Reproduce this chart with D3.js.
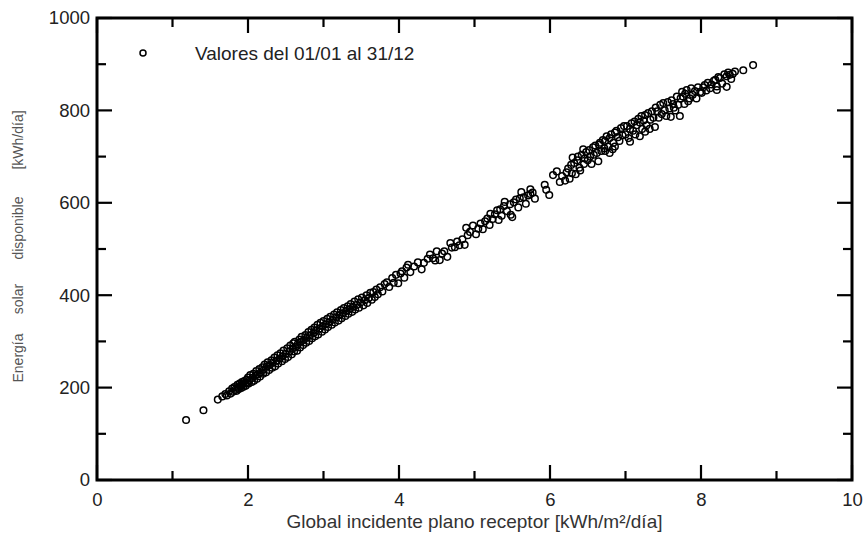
<!DOCTYPE html>
<html>
<head>
<meta charset="utf-8">
<script src="https://cdn.jsdelivr.net/npm/d3@7"></script>
<style>
    body { margin: 0; background: #fff; }
    #chart-area { width: 866px; height: 540px; }
    text { font-family: "Liberation Sans", Arial, sans-serif; }
</style>
</head>
<body>
<div id="chart-area"></div>
<script>

// x: Global incidente plano receptor [kWh/m2/dia], y: Energia solar disponible [kWh/dia]
let dias = [
    [1.18,130],[1.41,151],[1.60,174],[1.66,181],[1.70,186],[1.72,183],[1.75,192],[1.77,187],[1.79,198],[1.80,191],
    [1.82,201],[1.83,195],[1.85,193],[1.86,206],[1.87,200],[1.88,197],[1.89,209],[1.90,204],[1.91,199],[1.92,212],
    [1.93,207],[1.94,202],[1.95,214],[1.96,209],[1.97,204],[1.98,217],[1.99,210],
    [2.00,222],[2.01,209],[2.02,216],[2.03,227],[2.05,212],[2.06,221],[2.07,230],[2.08,215],[2.10,226],[2.11,236],
    [2.12,219],[2.13,229],[2.15,240],[2.16,224],[2.17,233],[2.19,244],[2.20,230],[2.21,239],[2.22,250],[2.24,233],
    [2.25,246],[2.26,255],[2.28,238],[2.29,249],[2.31,259],[2.32,243],[2.33,254],[2.35,265],[2.36,246],[2.38,258],
    [2.39,270],[2.40,252],[2.42,263],[2.43,274],[2.45,257],[2.46,268],[2.47,280],[2.49,262],[2.50,273],[2.52,285],
    [2.53,266],[2.55,278],[2.56,291],[2.58,272],[2.59,284],[2.60,296],[2.61,278],[2.62,299],[2.63,288],[2.65,280],
    [2.66,294],[2.68,304],[2.69,287],[2.70,299],[2.71,310],[2.73,292],[2.74,303],[2.76,314],[2.77,297],[2.78,308],
    [2.80,320],[2.81,301],[2.82,313],[2.84,325],[2.85,307],[2.87,318],[2.88,330],[2.89,311],[2.90,324],[2.92,336],
    [2.93,315],[2.95,328],[2.96,340],[2.98,321],[2.99,333],
    [3.00,344],[3.02,326],[3.03,337],[3.05,349],[3.06,331],[3.08,342],[3.09,353],[3.11,336],[3.12,347],[3.14,358],
    [3.15,341],[3.17,352],[3.18,363],[3.20,345],[3.21,357],[3.23,368],[3.24,350],[3.26,361],[3.27,372],[3.29,355],
    [3.30,366],[3.32,376],[3.33,360],[3.35,370],[3.36,381],[3.38,364],[3.39,375],[3.41,386],[3.42,369],[3.44,379],
    [3.46,391],[3.47,373],[3.49,384],[3.51,395],[3.53,378],[3.55,389],[3.57,400],[3.58,383],[3.60,394],[3.62,405],
    [3.64,390],[3.66,407],[3.68,396],[3.70,412],[3.72,402],[3.75,417],[3.78,408],[3.81,424],[3.84,428],[3.87,418],
    [3.91,437],[3.93,427],[3.96,444],[3.99,426],
    [4.02,447],[4.04,452],[4.07,438],[4.10,460],[4.12,466],[4.15,450],[4.20,462],[4.25,471],[4.30,456],[4.33,470],
    [4.38,479],[4.41,488],[4.45,480],[4.48,475],[4.50,495],[4.54,476],[4.57,490],[4.60,495],[4.64,483],[4.68,513],
    [4.70,503],[4.74,504],[4.77,516],[4.80,508],[4.84,521],[4.87,509],[4.89,546],[4.91,530],[4.94,537],[4.98,551],
    [5.02,532],[5.05,544],[5.08,555],[5.11,543],[5.14,560],[5.17,566],[5.20,552],[5.21,576],[5.24,565],[5.27,575],
    [5.30,584],[5.32,563],[5.34,586],[5.36,572],[5.39,593],[5.40,602],[5.43,582],[5.47,597],[5.48,574],[5.50,569],
    [5.52,601],[5.55,607],[5.58,590],[5.60,610],[5.62,623],[5.65,612],[5.68,598],[5.71,616],[5.74,619],[5.74,629],
    [5.77,622],[5.80,609],[5.93,639],[5.95,628],[5.99,617],
    [6.04,660],[6.09,668],[6.13,645],[6.16,658],[6.20,648],[6.22,666],[6.24,674],[6.26,652],[6.28,682],[6.29,664],
    [6.30,698],[6.32,686],[6.34,662],[6.36,692],[6.37,700],[6.39,676],[6.40,670],[6.42,704],[6.44,716],[6.45,684],
    [6.46,696],[6.48,710],[6.50,692],[6.52,714],[6.53,700],[6.55,684],[6.57,720],[6.58,704],[6.60,724],[6.62,708],
    [6.64,690],[6.65,726],[6.66,730],[6.68,712],[6.70,736],[6.72,718],[6.73,712],[6.73,734],[6.75,744],[6.77,722],
    [6.79,740],[6.79,708],[6.81,748],[6.83,716],[6.84,730],[6.86,752],[6.86,722],[6.88,756],[6.90,742],[6.92,734],
    [6.94,762],[6.96,746],[6.98,766],
    [7.00,748],[7.02,766],[7.04,740],[7.06,760],[7.06,732],[7.08,772],[7.10,756],[7.12,776],[7.13,748],[7.15,768],
    [7.17,782],[7.19,774],[7.19,744],[7.21,788],[7.22,760],[7.24,778],[7.26,754],[7.26,790],[7.28,768],[7.30,794],
    [7.32,760],[7.33,780],[7.35,798],[7.37,784],[7.39,764],[7.40,806],[7.42,798],[7.44,784],[7.46,812],[7.48,792],
    [7.50,816],[7.52,800],[7.54,788],[7.56,818],[7.58,804],[7.60,786],[7.61,822],[7.63,814],[7.64,806],[7.66,800],
    [7.68,830],[7.70,812],[7.72,788],[7.73,826],[7.75,840],[7.76,830],[7.78,814],[7.79,836],[7.81,844],[7.83,820],
    [7.85,826],[7.87,848],[7.89,834],[7.92,842],[7.94,826],[7.96,850],[7.99,840],
    [8.01,838],[8.03,850],[8.05,855],[8.07,843],[8.09,860],[8.12,848],[8.14,856],[8.17,864],[8.19,866],[8.21,844],
    [8.21,852],[8.23,872],[8.25,870],[8.28,858],[8.31,878],[8.34,874],[8.34,851],[8.36,882],[8.38,877],[8.40,868],
    [8.42,879],[8.45,884],[8.56,887],[8.69,898]
];

// axis ticks
let xMajorTicks = [0, 2, 4, 6, 8, 10];
let xMinorTicks = [1, 3, 5, 7, 9];
let yMajorTicks = [0, 200, 400, 600, 800, 1000];
let yMinorTicks = [100, 300, 500, 700, 900];

// texts
let legendLabel = 'Valores del 01/01 al 31/12';
let xTitle = 'Global incidente plano receptor [kWh/m²/día]';
let yTitleWords = ['Energía', 'solar', 'disponible', '[kWh/día]'];
let yTitlePos = [358, 299, 228, 140];


class ScatterVis {

    constructor(parentElement, data) {
        this.parentElement = parentElement;
        this.data = data;

        this.initVis()
    }

    initVis() {
        let vis = this;

        vis.margin = {top: 18, right: 14, bottom: 60, left: 97};
        vis.width = 866 - vis.margin.left - vis.margin.right;
        vis.height = 540 - vis.margin.top - vis.margin.bottom;

        vis.svg = d3.select("#" + vis.parentElement).append("svg")
            .attr("width", 866)
            .attr("height", 540)
            .append("g")
            .attr('transform', `translate(${vis.margin.left}, ${vis.margin.top})`);

        // scales
        vis.x = d3.scaleLinear().domain([0, 10]).range([0, vis.width]);
        vis.y = d3.scaleLinear().domain([0, 1000]).range([vis.height, 0]);

        // tick labels (marks are drawn by hand below)
        let xLabels = vis.svg.append('g')
            .attr('class', 'axis x-axis')
            .attr('transform', `translate(0, ${vis.height})`)
            .call(d3.axisBottom(vis.x).tickValues(xMajorTicks).tickSize(0).tickPadding(13).tickFormat(d3.format('d')));

        let yLabels = vis.svg.append('g')
            .attr('class', 'axis y-axis')
            .call(d3.axisLeft(vis.y).tickValues(yMajorTicks).tickSize(0).tickPadding(7).tickFormat(d3.format('d')));

        [xLabels, yLabels].forEach(g => {
            g.select('.domain').remove();
            g.selectAll('text')
                .attr('font-size', 18.5)
                .attr('fill', '#222')
                .attr('font-family', '"Liberation Sans", Arial, sans-serif');
        });

        // ticks pointing inwards on all four sides
        let tickSets = [
            {values: xMajorTicks, len: 15}, {values: xMinorTicks, len: 9}
        ];
        let yTickSets = [
            {values: yMajorTicks, len: 15}, {values: yMinorTicks, len: 9}
        ];

        let ticks = vis.svg.append('g').attr('class', 'ticks');

        tickSets.forEach(t => {
            // bottom
            ticks.selectAll(null).data(t.values).enter().append('line')
                .attr('x1', d => vis.x(d)).attr('x2', d => vis.x(d))
                .attr('y1', vis.height).attr('y2', vis.height - t.len);
            // top
            ticks.selectAll(null).data(t.values).enter().append('line')
                .attr('x1', d => vis.x(d)).attr('x2', d => vis.x(d))
                .attr('y1', 0).attr('y2', t.len);
        });

        yTickSets.forEach(t => {
            // left
            ticks.selectAll(null).data(t.values).enter().append('line')
                .attr('y1', d => vis.y(d)).attr('y2', d => vis.y(d))
                .attr('x1', 0).attr('x2', t.len);
            // right
            ticks.selectAll(null).data(t.values).enter().append('line')
                .attr('y1', d => vis.y(d)).attr('y2', d => vis.y(d))
                .attr('x1', vis.width).attr('x2', vis.width - t.len);
        });

        ticks.selectAll('line')
            .attr('stroke', '#000')
            .attr('stroke-width', 2.2);

        // frame
        vis.svg.append('rect')
            .attr('x', 0)
            .attr('y', 0)
            .attr('width', vis.width)
            .attr('height', vis.height)
            .attr('fill', 'none')
            .attr('stroke', '#000')
            .attr('stroke-width', 3);

        // x title
        vis.svg.append('text')
            .attr('x', vis.x(5))
            .attr('y', vis.height + 48)
            .attr('text-anchor', 'middle')
            .attr('font-size', 19)
            .attr('fill', '#333')
            .text(xTitle);

        // y title, words spread along the axis
        vis.svg.selectAll('.ytitle')
            .data(yTitleWords)
            .enter().append('text')
            .attr('class', 'ytitle')
            .attr('transform', (d, i) => `translate(${18 - vis.margin.left}, ${yTitlePos[i] - vis.margin.top}) rotate(-90)`)
            .attr('text-anchor', 'middle')
            .attr('dominant-baseline', 'central')
            .attr('font-size', 14)
            .attr('fill', '#555')
            .text(d => d);

        // legend
        vis.legend = vis.svg.append('g')
            .attr('class', 'legend')
            .attr('transform', `translate(${143 - vis.margin.left}, ${53 - vis.margin.top})`);

        vis.legend.append('circle')
            .attr('r', 3)
            .attr('fill', 'none')
            .attr('stroke', '#000')
            .attr('stroke-width', 1.5);

        vis.legend.append('text')
            .attr('x', 52)
            .attr('y', 7)
            .attr('font-size', 19)
            .attr('fill', '#222')
            .text(legendLabel);

        vis.updateVis()
    }

    updateVis() {
        let vis = this;

        vis.svg.selectAll('.dot')
            .data(vis.data)
            .enter().append('circle')
            .attr('class', 'dot')
            .attr('cx', d => vis.x(d[0]))
            .attr('cy', d => vis.y(d[1]))
            .attr('r', 3.3)
            .attr('fill', 'none')
            .attr('stroke', '#000')
            .attr('stroke-width', 1.5);
    }
}

let scatterVis = new ScatterVis('chart-area', dias);

</script>
</body>
</html>
